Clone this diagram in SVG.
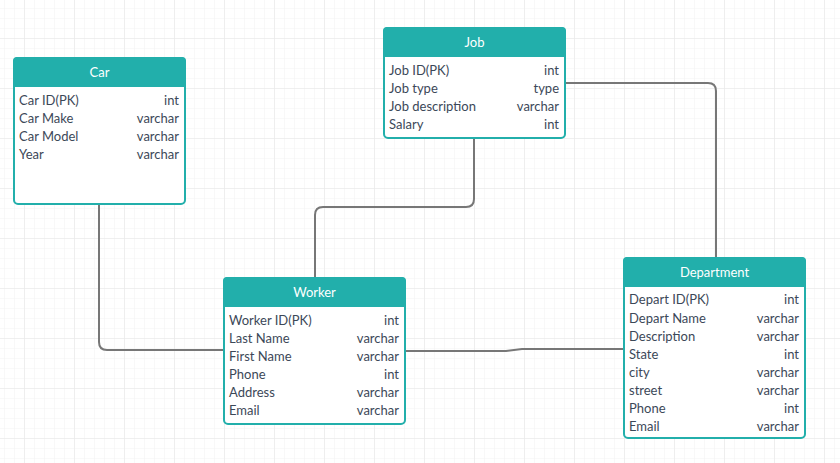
<svg xmlns="http://www.w3.org/2000/svg" width="840" height="463" viewBox="0 0 840 463">
<defs>
<pattern id="minor" x="4" y="8" width="10" height="10" patternUnits="userSpaceOnUse">
<path d="M0 0H10M0 0V10" fill="none" stroke="#f4f4f4" stroke-width="1.2"/>
</pattern>
<pattern id="major" x="24" y="38" width="50" height="50" patternUnits="userSpaceOnUse">
<path d="M0 0H50M0 0V50" fill="none" stroke="#ebebeb" stroke-width="1.5"/>
</pattern>
</defs>
<style>
.box{fill:#fff;stroke:#22afab;stroke-width:2}
.hdr{fill:#22afab}
.title{font-family:Lato,"Liberation Sans",sans-serif;font-size:13px;fill:#fff;text-anchor:middle}
.f{font-family:Lato,"Liberation Sans",sans-serif;font-size:13px;fill:#3c4858}
.t{font-family:Lato,"Liberation Sans",sans-serif;font-size:13px;fill:#3c4858;text-anchor:end}
.c{fill:none;stroke:#777;stroke-width:2}
</style>
<rect width="840" height="463" fill="#fff"/>
<rect width="840" height="463" fill="url(#minor)"/>
<rect width="840" height="463" fill="url(#major)"/>
<g id="connectors">
<path class="c" d="M99 204V342Q99 350 107 350H223"/>
<path class="c" d="M474 139V199Q474 207 466 207H323Q315 207 315 215V277"/>
<path class="c" d="M565 83H708Q716 83 716 91V257"/>
<path class="c" d="M405 351H506L522 349H623"/>
</g>
<g id="car">
<rect class="box" x="14" y="58" width="171" height="146" rx="4"/>
<path class="hdr" d="M13 87V61Q13 57 17 57H182Q186 57 186 61V87Z"/>
<text class="title" x="99.5" y="77">Car</text>
<text class="f" x="19" y="105">Car ID(PK)</text><text class="t" x="179" y="105">int</text>
<text class="f" x="19" y="123">Car Make</text><text class="t" x="179" y="123">varchar</text>
<text class="f" x="19" y="141">Car Model</text><text class="t" x="179" y="141">varchar</text>
<text class="f" x="19" y="159">Year</text><text class="t" x="179" y="159">varchar</text>
</g>
<g id="job">
<rect class="box" x="384" y="28" width="181" height="110" rx="4"/>
<path class="hdr" d="M383 57V31Q383 27 387 27H562Q566 27 566 31V57Z"/>
<text class="title" x="474.5" y="47">Job</text>
<text class="f" x="389" y="75">Job ID(PK)</text><text class="t" x="559" y="75">int</text>
<text class="f" x="389" y="93">Job type</text><text class="t" x="559" y="93">type</text>
<text class="f" x="389" y="111">Job description</text><text class="t" x="559" y="111">varchar</text>
<text class="f" x="389" y="129">Salary</text><text class="t" x="559" y="129">int</text>
</g>
<g id="worker">
<rect class="box" x="224" y="278" width="181" height="146" rx="4"/>
<path class="hdr" d="M223 307V281Q223 277 227 277H402Q406 277 406 281V307Z"/>
<text class="title" x="314.5" y="297">Worker</text>
<text class="f" x="229" y="325">Worker ID(PK)</text><text class="t" x="399" y="325">int</text>
<text class="f" x="229" y="343">Last Name</text><text class="t" x="399" y="343">varchar</text>
<text class="f" x="229" y="361">First Name</text><text class="t" x="399" y="361">varchar</text>
<text class="f" x="229" y="379">Phone</text><text class="t" x="399" y="379">int</text>
<text class="f" x="229" y="397">Address</text><text class="t" x="399" y="397">varchar</text>
<text class="f" x="229" y="415">Email</text><text class="t" x="399" y="415">varchar</text>
</g>
<g id="department">
<rect class="box" x="624" y="258" width="181" height="180" rx="4"/>
<path class="hdr" d="M623 287V261Q623 257 627 257H802Q806 257 806 261V287Z"/>
<text class="title" x="714.5" y="277">Department</text>
<text class="f" x="629" y="304">Depart ID(PK)</text><text class="t" x="799" y="304">int</text>
<text class="f" x="629" y="323">Depart Name</text><text class="t" x="799" y="323">varchar</text>
<text class="f" x="629" y="341">Description</text><text class="t" x="799" y="341">varchar</text>
<text class="f" x="629" y="359">State</text><text class="t" x="799" y="359">int</text>
<text class="f" x="629" y="377">city</text><text class="t" x="799" y="377">varchar</text>
<text class="f" x="629" y="395">street</text><text class="t" x="799" y="395">varchar</text>
<text class="f" x="629" y="413">Phone</text><text class="t" x="799" y="413">int</text>
<text class="f" x="629" y="431">Email</text><text class="t" x="799" y="431">varchar</text>
</g>
</svg>
